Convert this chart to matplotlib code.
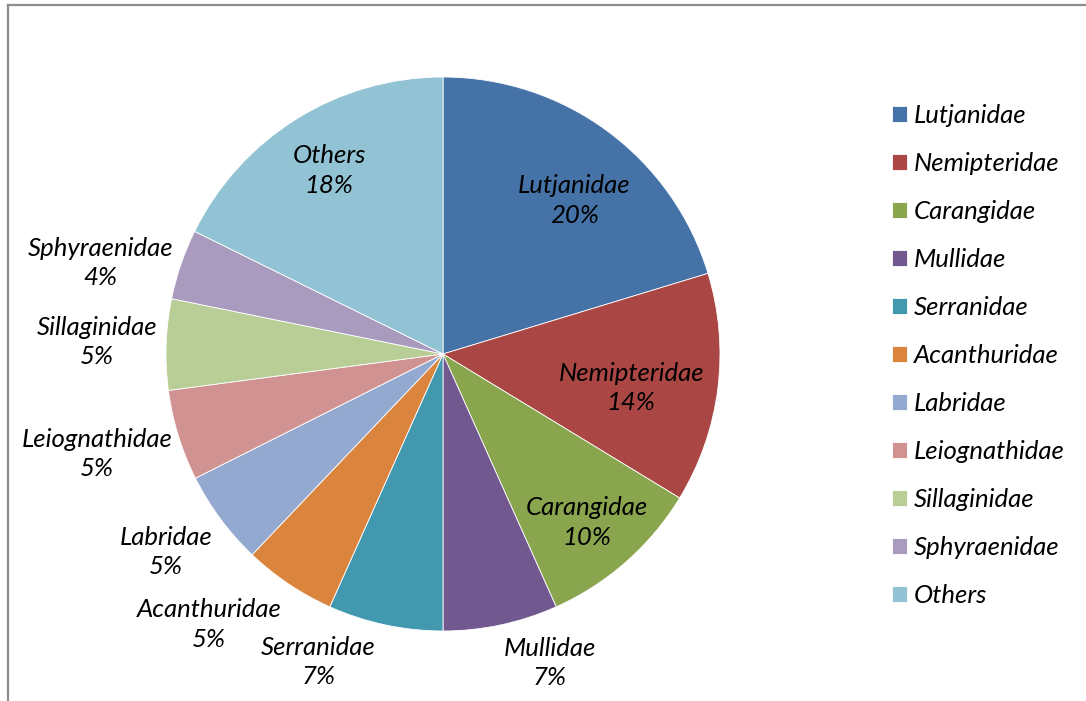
import numpy as np
import matplotlib
matplotlib.use("Agg")
import matplotlib.pyplot as plt
from matplotlib.lines import Line2D

families = ["Lutjanidae", "Nemipteridae", "Carangidae", "Mullidae", "Serranidae",
            "Acanthuridae", "Labridae", "Leiognathidae", "Sillaginidae",
            "Sphyraenidae", "Others"]
shares = [20.3, 13.4, 9.6, 6.7, 6.7, 5.4, 5.5, 5.3, 5.3, 4.1, 17.7]
pct_labels = ["20%", "14%", "10%", "7%", "7%", "5%", "5%", "5%", "5%", "4%", "18%"]

colors = ["#4572A7", "#AA4643", "#89A54E", "#71588F", "#4198AF", "#DB843D",
          "#93A9CF", "#D19392", "#B9CD96", "#A99BBD", "#92C3D4"]
# label placement (radius as fraction of pie radius, angle shift in degrees)
label_r = [0.73, 0.69, 0.80, 1.18, 1.20, 1.29, 1.23, 1.30, 1.25, 1.28, 0.78]
label_dang = [-4, -3, -1, 7, -10, -7, -1, -1, 0, 4, 0]

plt.rcParams["font.family"] = ["Lato", "DejaVu Sans"]
FS = 18.5

fig = plt.figure(figsize=(10.86, 7.01), dpi=100)
W, H = 1086, 701

# outer chart border (left and top visible)
fig.add_artist(Line2D([8 / W, 8 / W], [0, 1 - 5 / H], color="#8c8c8c", lw=1.6,
                      transform=fig.transFigure))
fig.add_artist(Line2D([8 / W, 1], [1 - 5 / H, 1 - 5 / H], color="#8c8c8c", lw=1.6,
                      transform=fig.transFigure))

cx, cy, r = 443, 354, 277
ax = fig.add_axes([(cx - r) / W, (H - cy - r) / H, 2 * r / W, 2 * r / H])
wedges, _ = ax.pie(shares, colors=colors, startangle=90, counterclock=False,
                   radius=1, wedgeprops=dict(edgecolor="white", linewidth=0.6))
ax.set_xlim(-1, 1)
ax.set_ylim(-1, 1)
ax.set_aspect("equal")
ax.axis("off")

for w, name, pct, rr, da in zip(wedges, families, pct_labels, label_r, label_dang):
    mid = np.deg2rad((w.theta1 + w.theta2) / 2 + da)
    ax.text(rr * np.cos(mid), rr * np.sin(mid), f"{name}\n{pct}",
            ha="center", va="center", fontsize=FS, style="italic",
            linespacing=1.35, clip_on=False)

fig.legend(wedges, families, loc="upper left",
           bbox_to_anchor=(879 / W, 1 - 91 / H), frameon=False,
           prop=dict(size=FS, style="italic"),
           handlelength=0.58, handleheight=0.58, handletextpad=0.28,
           labelspacing=0.975, borderpad=0)

fig.savefig("out.png", dpi=100)
